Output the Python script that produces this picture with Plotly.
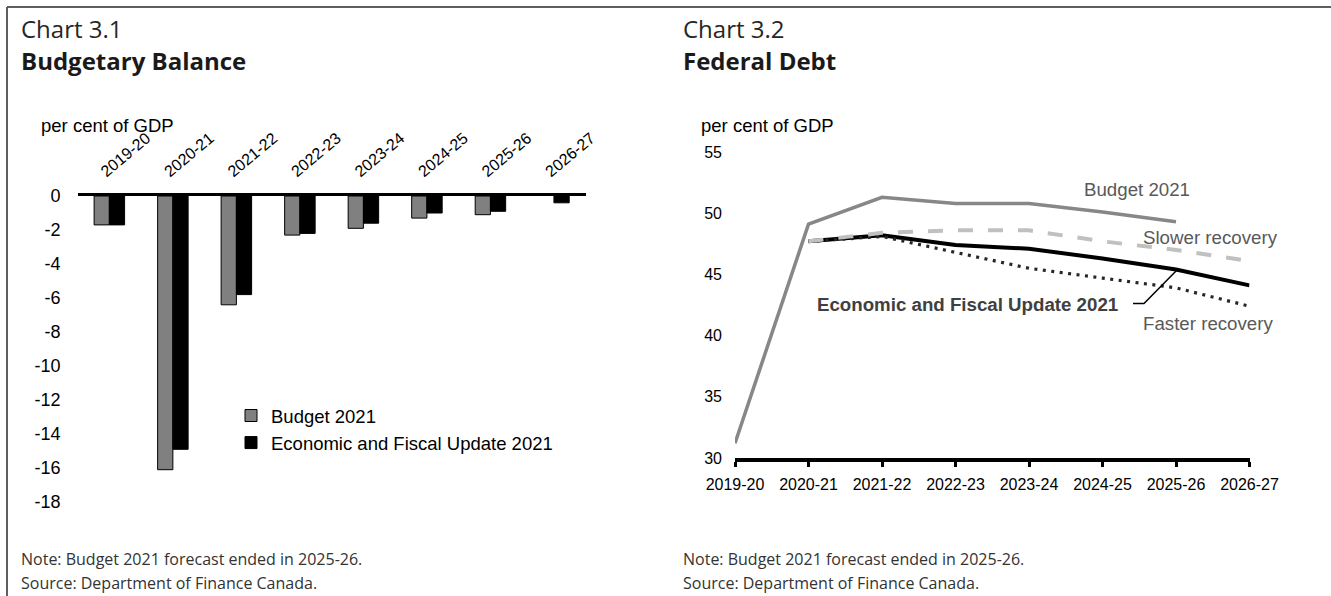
import plotly.graph_objects as go

W, H = 1331, 596

# ---- data -------------------------------------------------------------
years = ["2019-20", "2020-21", "2021-22", "2022-23", "2023-24", "2024-25", "2025-26", "2026-27"]

# Chart 3.1 budgetary balance, per cent of GDP
balance_budget2021 = [-1.7, -16.1, -6.4, -2.3, -1.9, -1.3, -1.1, None]
balance_efu2021 = [-1.7, -14.9, -5.8, -2.2, -1.6, -1.0, -0.9, -0.4]

# Chart 3.2 federal debt, per cent of GDP
debt_budget2021 = [31.2, 49.1, 51.3, 50.8, 50.8, 50.1, 49.3, None]
debt_efu2021 = [None, 47.7, 48.2, 47.4, 47.1, 46.3, 45.4, 44.1]
debt_slower = [None, 47.7, 48.4, 48.6, 48.6, 47.7, 47.0, 46.1]
debt_faster = [None, 47.7, 48.1, 46.8, 45.5, 44.7, 43.9, 42.4]

balance_ticks = list(range(-18, 1, 2))
debt_ticks = list(range(30, 56, 5))

# ---- helpers: pixel position -> paper fraction ------------------------
def px(x):
    return x / W


def py(y):
    return 1 - y / H


ARIAL = "Liberation Sans, Arial, sans-serif"
SEGOE = "Open Sans, Noto Sans, sans-serif"

fig = go.Figure()

# ---- Chart 3.1 bars ---------------------------------------------------
fig.add_trace(go.Bar(
    x=years, y=balance_budget2021, name="Budget 2021",
    marker=dict(color="#808080", line=dict(color="#000000", width=1)),
    xaxis="x", yaxis="y", showlegend=True,
))
fig.add_trace(go.Bar(
    x=years, y=balance_efu2021, name="Economic and Fiscal Update 2021",
    marker=dict(color="#000000", line=dict(color="#000000", width=1)),
    xaxis="x", yaxis="y", showlegend=True,
))

# ---- Chart 3.2 lines --------------------------------------------------
fig.add_trace(go.Scatter(
    x=years, y=debt_budget2021, mode="lines", name="Budget 2021 debt",
    line=dict(color="#878787", width=3.5), xaxis="x2", yaxis="y2", showlegend=False,
))
fig.add_trace(go.Scatter(
    x=years, y=debt_efu2021, mode="lines", name="EFU 2021 debt",
    line=dict(color="#000000", width=4), xaxis="x2", yaxis="y2", showlegend=False,
))
fig.add_trace(go.Scatter(
    x=years, y=debt_faster, mode="lines", name="Faster recovery",
    line=dict(color="#262626", width=3.2, dash="3px,5.5px"), xaxis="x2", yaxis="y2", showlegend=False,
))
fig.add_trace(go.Scatter(
    x=years, y=debt_slower, mode="lines", name="Slower recovery",
    line=dict(color="#c0c0c0", width=4, dash="15px,15px"), xaxis="x2", yaxis="y2", showlegend=False,
))

fig.update_layout(
    width=W, height=H,
    margin=dict(l=0, r=0, t=0, b=0, pad=0, autoexpand=False),
    paper_bgcolor="white", plot_bgcolor="white",
    barmode="group", bargap=0.52, bargroupgap=0,
    font=dict(family=ARIAL, color="#000000"),
    xaxis=dict(
        domain=[px(77.6), px(585.7)], anchor="y", side="top", automargin=False,
        type="category", categoryorder="array", categoryarray=years,
        showline=True, linecolor="#000000", linewidth=3,
        ticks="", tickangle=-40, ticklabelstandoff=7, ticklabelshift=-8,
        tickfont=dict(family=ARIAL, size=16, color="#000000"),
        showgrid=False, zeroline=False, fixedrange=True,
    ),
    yaxis=dict(
        domain=[py(502), py(196)], anchor="x", range=[-18, 0], automargin=False,
        tickvals=balance_ticks, ticktext=[str(v) for v in balance_ticks],
        showline=False, ticks="", ticklabelstandoff=16,
        tickfont=dict(family=ARIAL, size=18, color="#000000"),
        showgrid=False, zeroline=False, fixedrange=True,
    ),
    xaxis2=dict(
        domain=[px(735), px(1249.5)], anchor="y2", automargin=False,
        type="category", categoryorder="array", categoryarray=years,
        range=[0, 7],
        showline=True, linecolor="#000000", linewidth=4,
        ticks="outside", ticklen=5, tickwidth=3, tickcolor="#000000",
        ticklabelstandoff=4,
        tickfont=dict(family=ARIAL, size=16, color="#000000"),
        showgrid=False, zeroline=False, fixedrange=True,
    ),
    yaxis2=dict(
        domain=[py(458), py(152)], anchor="x2", range=[30, 55], automargin=False,
        tickvals=debt_ticks, ticktext=[str(v) for v in debt_ticks],
        showline=False, ticks="", ticklabelstandoff=12,
        tickfont=dict(family=ARIAL, size=16, color="#000000"),
        showgrid=False, zeroline=False, fixedrange=True,
    ),
    legend=dict(
        x=px(231), y=py(397), xanchor="left", yanchor="top",
        bgcolor="rgba(0,0,0,0)", font=dict(family=ARIAL, size=18.5, color="#000000"),
        itemwidth=30, tracegroupgap=0, traceorder="normal",
    ),
)

# ---- frame --------------------------------------------------------------
frame = dict(type="line", xref="paper", yref="paper", line=dict(color="#5f5f5f", width=2))
fig.add_shape(**frame, x0=px(7), x1=1, y0=py(7), y1=py(7))
fig.add_shape(**frame, x0=px(7), x1=px(7), y0=0, y1=py(7))

# ---- texts ----------------------------------------------------------------
def label(x, y, text, size, family=SEGOE, color="#262626", xanchor="left"):
    fig.add_annotation(
        x=px(x), y=py(y), xref="paper", yref="paper", text=text, showarrow=False,
        xanchor=xanchor, yanchor="middle", align="left",
        font=dict(family=family, size=size, color=color),
    )


for x0, num, title in [(19, "3.1", "Budgetary Balance"), (681, "3.2", "Federal Debt")]:
    label(x0, 29, f"Chart {num}", 24, color="#262626")
    label(x0, 61, f"<b>{title}</b>", 24, color="#1a1a1a")
    label(x0, 559, "Note: Budget 2021 forecast ended in 2025-26.", 16, color="#333333")
    label(x0, 583, "Source: Department of Finance Canada.", 16, color="#333333")

label(39, 125, "per cent of GDP", 18.5, family=ARIAL, color="#000000")
label(699, 125, "per cent of GDP", 18.5, family=ARIAL, color="#000000")

# line labels, Chart 3.2
label(1082, 189, "Budget 2021", 18.7, family=ARIAL, color="#595959")
label(1141, 237, "Slower recovery", 18.7, family=ARIAL, color="#595959")
label(1141, 323, "Faster recovery", 18.7, family=ARIAL, color="#595959")
label(815, 304, "<b>Economic and Fiscal Update 2021</b>", 18.7, family=ARIAL, color="#404040")

# leader from the EFU label to its line
fig.add_shape(type="path", xref="paper", yref="paper",
              path=f"M {px(1133)},{py(303.5)} L {px(1144)},{py(303.5)} L {px(1177)},{py(270)}",
              line=dict(color="#000000", width=1.5))

fig.write_html("out.html")
